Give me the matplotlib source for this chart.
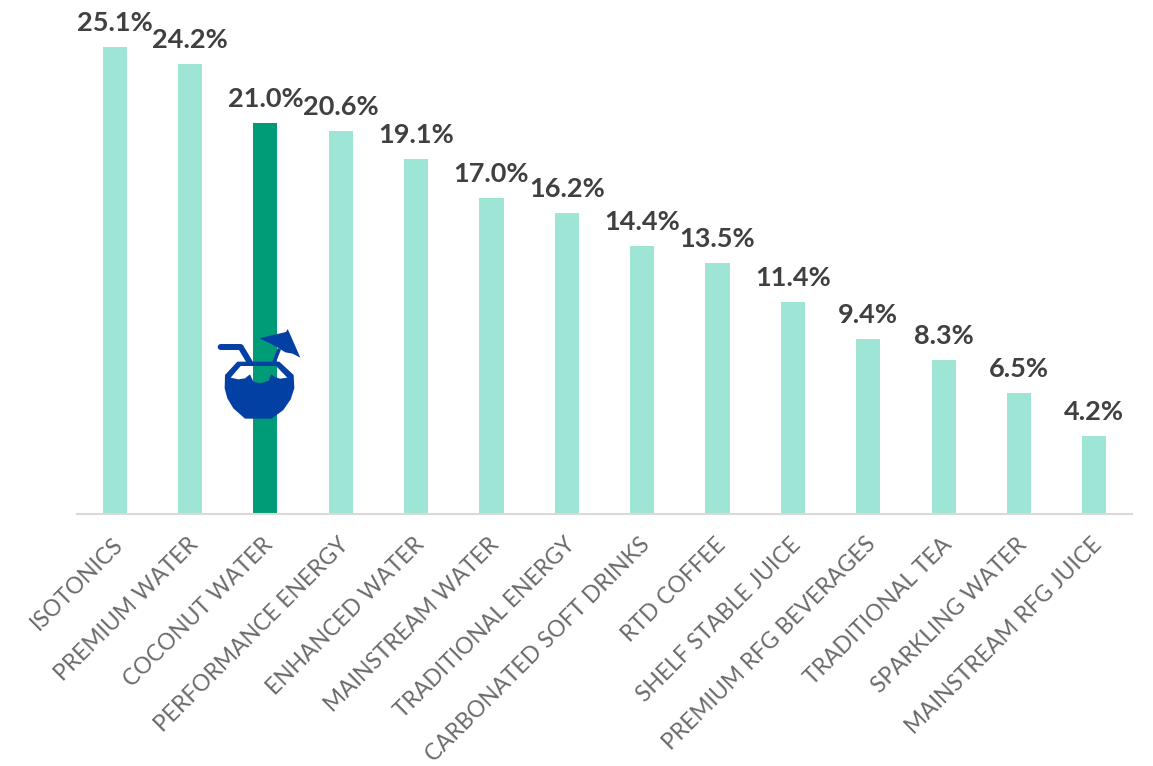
import matplotlib
matplotlib.use("Agg")
import matplotlib.pyplot as plt
from matplotlib.path import Path
from matplotlib.patches import PathPatch, Polygon
from matplotlib.transforms import Affine2D

categories = ["ISOTONICS", "PREMIUM WATER", "COCONUT WATER", "PERFORMANCE ENERGY",
              "ENHANCED WATER", "MAINSTREAM WATER", "TRADITIONAL ENERGY",
              "CARBONATED SOFT DRINKS", "RTD COFFEE", "SHELF STABLE JUICE",
              "PREMIUM RFG BEVERAGES", "TRADITIONAL TEA", "SPARKLING WATER",
              "MAINSTREAM RFG JUICE"]
shares = [25.1, 24.2, 21.0, 20.6, 19.1, 17.0, 16.2, 14.4, 13.5, 11.4, 9.4, 8.3, 6.5, 4.2]
highlighted = "COCONUT WATER"

LIGHT = "#9FE5D6"
DARK = "#009B77"
ICON = "#0340A3"
W, H = 1153, 766

fig = plt.figure(figsize=(W / 100, H / 100), dpi=100, facecolor="white")
ax = fig.add_axes([77 / W, (H - 514) / H, (1132 - 77) / W, 514 / H])
ax.set_facecolor("none")

colors = [DARK if c == highlighted else LIGHT for c in categories]
positions = list(range(len(categories)))
ax.bar(positions, shares, width=0.32, color=colors, zorder=2)
ax.set_xlim(-0.5, len(categories) - 0.5)
ax.set_ylim(0, 514 / 18.6)

for side in ("top", "left", "right"):
    ax.spines[side].set_visible(False)
ax.spines["bottom"].set_color("#D9D9D9")
ax.spines["bottom"].set_linewidth(1.5)
ax.yaxis.set_visible(False)

ax.set_xticks(positions)
ax.set_xticklabels(categories, rotation=45, ha="right", va="top", rotation_mode="anchor",
                   fontsize=16.4, color="#6A6A6A", family="Lato", fontweight="normal")
ax.tick_params(axis="x", length=0, pad=17)
nudge = Affine2D().translate(-3, 4)
for label in ax.get_xticklabels():
    label.set_transform(label.get_transform() + nudge)

for x, v in zip(positions, shares):
    ax.annotate(f"{v:.1f}%", (x, v), xytext=(0, 11.5), textcoords="offset points",
                ha="center", va="baseline", fontsize=19.5, fontweight="bold",
                color="#404040", family="Lato", zorder=3, clip_on=False)

# Coconut drink emblem, drawn in pixel space on a transparent overlay
overlay = fig.add_axes([0, 0, 1, 1], zorder=5)
overlay.set_xlim(0, W)
overlay.set_ylim(H, 0)
overlay.axis("off")

def px(points):
    return [(200 + a / 3, 310 + b / 3) for a, b in points]

shell = px([(112, 155), (238, 155), (281, 195), (283, 235), (272, 268), (250, 300), (215, 326),
            (135, 326), (100, 295), (82, 265), (74, 235), (75, 195)])
hollow = px([(122, 168), (92, 203), (115, 208), (135, 205), (150, 193), (160, 215), (182, 220),
             (206, 212), (213, 193), (225, 201), (240, 206), (262, 203), (228, 168)])
verts = shell + shell[:1] + hollow + hollow[:1]
codes = ([Path.MOVETO] + [Path.LINETO] * (len(shell) - 1) + [Path.CLOSEPOLY]
         + [Path.MOVETO] + [Path.LINETO] * (len(hollow) - 1) + [Path.CLOSEPOLY])
overlay.add_patch(PathPatch(Path(verts, codes), facecolor=ICON, edgecolor="none"))

straw = px([(62, 111), (122, 111), (150, 158)])
overlay.plot(*zip(*straw), color=ICON, lw=4.3, solid_capstyle="round", solid_joinstyle="round")

stick = px([(222, 157), (238, 116)])
overlay.plot(*zip(*stick), color=ICON, lw=2.6, solid_capstyle="butt")
canopy = px([(178, 85), (215, 76), (258, 66), (263, 57), (269, 70), (301, 143), (278, 131),
             (256, 127), (235, 114), (212, 101), (195, 93)])
overlay.add_patch(Polygon(canopy, closed=True, facecolor=ICON, edgecolor="none"))

fig.savefig("out.png", dpi=100, facecolor="white")
